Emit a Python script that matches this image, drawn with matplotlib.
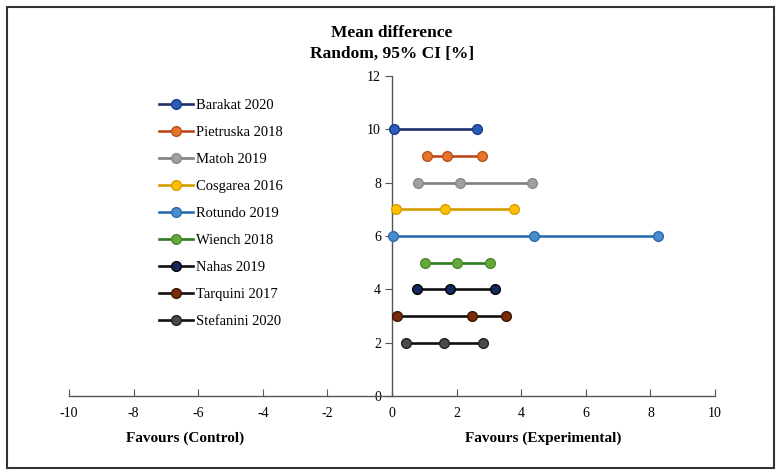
import matplotlib
matplotlib.use("Agg")
import matplotlib.pyplot as plt
from matplotlib.patches import Rectangle

plt.rcParams['font.family'] = ['Liberation Serif', 'DejaVu Serif']
plt.rcParams['axes.unicode_minus'] = False

studies = ["Barakat 2020", "Pietruska 2018", "Matoh 2019", "Cosgarea 2016", "Rotundo 2019",
           "Wiench 2018", "Nahas 2019", "Tarquini 2017", "Stefanini 2020"]
y_pos = [10, 9, 8, 7, 6, 5, 4, 3, 2]
x_values = [
    [0.05, 2.62],
    [1.08, 1.70, 2.78],
    [0.80, 2.10, 4.32],
    [0.12, 1.64, 3.78],
    [0.04, 4.40, 8.22],
    [1.02, 2.02, 3.02],
    [0.77, 1.80, 3.20],
    [0.16, 2.48, 3.54],
    [0.42, 1.62, 2.82],
]
line_colors = ["#1f2d6b", "#c0461a", "#7f7f7f", "#d39c00", "#2b6cb0",
               "#2e7a1e", "#111111", "#111111", "#111111"]
marker_colors = ["#2a5cb8", "#e8732c", "#a0a0a0", "#ffc000", "#4a8cd0",
                 "#66a83c", "#14285e", "#7a2a08", "#4a4a4a"]
marker_edges = ["#1a3a8a", "#b8521a", "#8a8a8a", "#d9a000", "#2f6aa8",
                "#4a8a2a", "#000000", "#3a1400", "#222222"]

x_ticks = [-10, -8, -6, -4, -2, 0, 2, 4, 6, 8, 10]
y_ticks = [0, 2, 4, 6, 8, 10, 12]

fig = plt.figure(figsize=(7.79, 4.76), dpi=100)
ax = fig.add_axes([0.0886, 0.168, 0.8293, 0.6723])

for name, y, xs, lc, mc, me in zip(studies, y_pos, x_values, line_colors, marker_colors, marker_edges):
    ax.plot(xs, [y] * len(xs), color=lc, lw=1.9, marker='o', markersize=7,
            markerfacecolor=mc, markeredgecolor=me, markeredgewidth=1.0, label=name, zorder=3)

ax.set_xlim(-10, 10)
ax.set_ylim(0, 12)
ax.set_xticks(x_ticks)
ax.set_yticks(y_ticks)
ax.spines['left'].set_position(('data', 0))
ax.spines['bottom'].set_position(('data', 0))
ax.spines['right'].set_visible(False)
ax.spines['top'].set_visible(False)
for s in ['left', 'bottom']:
    ax.spines[s].set_color('#555555')
    ax.spines[s].set_linewidth(1.0)
ax.tick_params(axis='x', direction='in', length=5, color='#555555', labelsize=10, pad=8)
ax.tick_params(axis='y', direction='out', length=5, color='#555555', labelsize=10, pad=3)

ax.text(0, 1.102, "Mean difference\nRandom, 95% CI [%]", transform=ax.get_xaxis_transform(),
        ha='center', va='center', fontsize=12.5, fontweight='bold', linespacing=1.42)

ax.text(-6.4, -0.132, "Favours (Control)", transform=ax.get_xaxis_transform(),
        ha='center', va='center', fontsize=11, fontweight='bold')
ax.text(4.67, -0.132, "Favours (Experimental)", transform=ax.get_xaxis_transform(),
        ha='center', va='center', fontsize=11, fontweight='bold')

leg = fig.legend(loc='upper left', bbox_to_anchor=(0.197, 0.805), frameon=False,
                 fontsize=10.5, handlelength=2.3, handletextpad=0.2, labelspacing=0.95,
                 borderaxespad=0)

fig.patches.append(Rectangle((7 / 779, 8 / 476), 767 / 779, 461 / 476, transform=fig.transFigure,
                             fill=False, edgecolor='#333333', linewidth=1.5))

fig.savefig("out.png", dpi=100)
